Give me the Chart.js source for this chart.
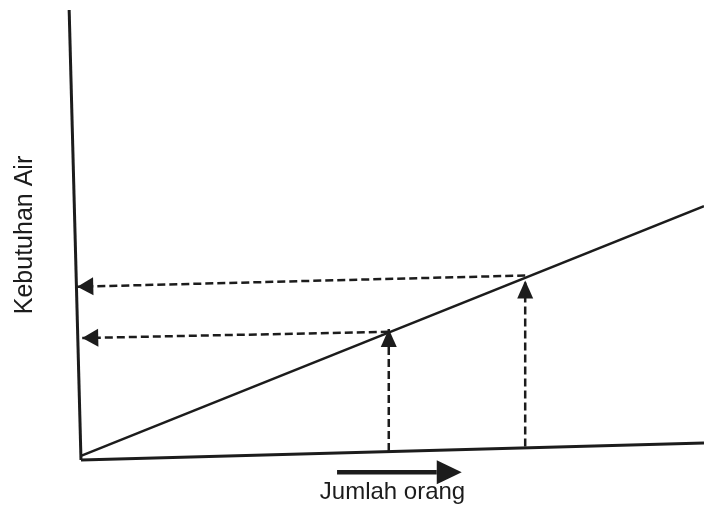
<!DOCTYPE html>
<html>
<head>
<meta charset="utf-8">
<script src="https://cdn.jsdelivr.net/npm/chart.js@4"></script>
<style>
  html, body { margin: 0; padding: 0; background: #fff; }
  #wrap { width: 704px; height: 514px; }
</style>
</head>
<body>
<div id="wrap"><canvas id="chartAir"></canvas></div>
<script>
// axes as they sit in the scan (it is a little tilted)
let xAxisLine = [[0, 0], [100, 3.8]];
let yAxisLine = [[0, 0], [-1.9, 100]];
// Kebutuhan Air grows with Jumlah orang
let demandLine = [[0, 0.9], [100, 56.4]];

// two sample readings
let peopleMarks = [49.4, 71.3];
let footY = [2.0, 3.0];
let demandAtMark = [29.1, 39.9];
let readStartY = [28.5, 41.0];
let readEndX = [0.2, -0.6];
let readEndY = [27.1, 38.5];

// direction arrow under the x axis (shaft only, head is added on top)
let directionArrow = [[41.1, -2.7], [57.1, -2.7]];

let ink = '#1c1c1c';

function pts(list) {
    return list.map(p => ({x: p[0], y: p[1]}));
}

let datasets = [
    {data: pts(xAxisLine), borderWidth: 3},
    {data: pts(yAxisLine), borderWidth: 3},
    {data: pts(demandLine), borderWidth: 2.5}
];

for (let i = 0; i < peopleMarks.length; i++) {
    datasets.push({
        data: pts([[peopleMarks[i], footY[i]], [peopleMarks[i], demandAtMark[i]]]),
        borderWidth: 2.5,
        borderDash: [8, 4],
        arrow: {len: 18, half: 8}
    });
    datasets.push({
        data: pts([[peopleMarks[i], readStartY[i]], [readEndX[i], readEndY[i]]]),
        borderWidth: 2.5,
        borderDash: [8, 4],
        arrow: {len: 16, half: 9}
    });
}

datasets.push({data: pts(directionArrow), borderWidth: 4.5, arrow: {len: 25, half: 12, past: true}});

datasets.forEach(ds => {
    ds.showLine = true;
    ds.borderColor = ink;
    ds.pointRadius = 0;
    ds.clip = false;
    ds.tension = 0;
});

// filled arrow head at the last point of a dataset
const arrowHeads = {
    id: 'arrowHeads',
    afterDatasetsDraw(chart) {
        const ctx = chart.ctx;
        chart.data.datasets.forEach((ds, i) => {
            if (!ds.arrow) return;
            const meta = chart.getDatasetMeta(i);
            const a = meta.data[meta.data.length - 2];
            const b = meta.data[meta.data.length - 1];
            const ang = Math.atan2(b.y - a.y, b.x - a.x);
            const len = ds.arrow.len;
            ctx.save();
            ctx.translate(b.x, b.y);
            ctx.rotate(ang);
            if (ds.arrow.past) ctx.translate(len, 0);
            ctx.fillStyle = ink;
            ctx.beginPath();
            ctx.moveTo(0, 0);
            ctx.lineTo(-len, -ds.arrow.half);
            ctx.lineTo(-len, ds.arrow.half);
            ctx.closePath();
            ctx.fill();
            ctx.restore();
        });
    }
};

new Chart("chartAir", {
    type: "scatter",
    data: {datasets: datasets},
    options: {
        responsive: true,
        maintainAspectRatio: false,
        animation: false,
        layout: {padding: {top: 10, right: 0, left: 0, bottom: 0}},
        plugins: {legend: {display: false}, tooltip: {enabled: false}},
        scales: {
            x: {
                type: 'linear',
                min: 0,
                max: 100,
                grid: {display: false},
                border: {display: false},
                ticks: {display: false},
                title: {
                    display: true,
                    text: "Jumlah orang",
                    color: ink,
                    font: {family: "'Liberation Sans', Arial, sans-serif", size: 24},
                    padding: {top: 0, bottom: 7}
                },
                afterFit(scale) { scale.height = 54; }
            },
            y: {
                type: 'linear',
                min: 0,
                max: 100,
                grid: {display: false},
                border: {display: false},
                ticks: {display: false},
                title: {
                    display: true,
                    text: "Kebutuhan Air",
                    color: ink,
                    font: {family: "'Liberation Sans', Arial, sans-serif", size: 25},
                    padding: {top: 10, bottom: 0}
                },
                afterFit(scale) { scale.width = 81; }
            }
        }
    },
    plugins: [arrowHeads]
});
</script>
</body>
</html>
